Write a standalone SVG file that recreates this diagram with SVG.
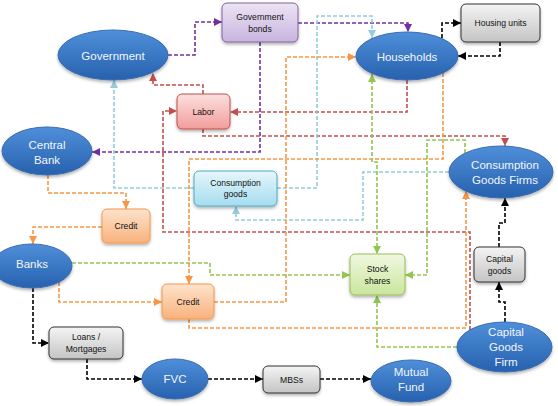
<svg xmlns="http://www.w3.org/2000/svg" width="558" height="406" viewBox="0 0 558 406">
<defs>
<linearGradient id="gE" x1="0" y1="0" x2="0" y2="1"><stop offset="0" stop-color="#4f8fda"/><stop offset="1" stop-color="#2761ae"/></linearGradient>
<linearGradient id="gPu" x1="0" y1="0" x2="0" y2="1"><stop offset="0" stop-color="#ece4f4"/><stop offset="1" stop-color="#c8b4df"/></linearGradient>
<linearGradient id="gGr" x1="0" y1="0" x2="0" y2="1"><stop offset="0" stop-color="#f4f4f4"/><stop offset="1" stop-color="#c4c4c4"/></linearGradient>
<linearGradient id="gRe" x1="0" y1="0" x2="0" y2="1"><stop offset="0" stop-color="#fce0df"/><stop offset="1" stop-color="#f19d9b"/></linearGradient>
<linearGradient id="gBl" x1="0" y1="0" x2="0" y2="1"><stop offset="0" stop-color="#e6f6fb"/><stop offset="1" stop-color="#a5dcef"/></linearGradient>
<linearGradient id="gOr" x1="0" y1="0" x2="0" y2="1"><stop offset="0" stop-color="#fde3cc"/><stop offset="1" stop-color="#f8b27c"/></linearGradient>
<linearGradient id="gGn" x1="0" y1="0" x2="0" y2="1"><stop offset="0" stop-color="#f0f8e0"/><stop offset="1" stop-color="#c9e69c"/></linearGradient>
<filter id="sh" x="-20%" y="-20%" width="140%" height="150%"><feDropShadow dx="0" dy="2" stdDeviation="1.8" flood-color="#000" flood-opacity="0.3"/></filter>
<marker id="mP" viewBox="0 0 10 10" refX="10" refY="5" markerWidth="8" markerHeight="8" markerUnits="userSpaceOnUse" orient="auto-start-reverse"><path d="M0,0 L10,5 L0,10 z" fill="#7030a0"/></marker>
<marker id="mR" viewBox="0 0 10 10" refX="10" refY="5" markerWidth="8" markerHeight="8" markerUnits="userSpaceOnUse" orient="auto-start-reverse"><path d="M0,0 L10,5 L0,10 z" fill="#c0504d"/></marker>
<marker id="mB" viewBox="0 0 10 10" refX="10" refY="5" markerWidth="8" markerHeight="8" markerUnits="userSpaceOnUse" orient="auto-start-reverse"><path d="M0,0 L10,5 L0,10 z" fill="#93cddd"/></marker>
<marker id="mO" viewBox="0 0 10 10" refX="10" refY="5" markerWidth="8" markerHeight="8" markerUnits="userSpaceOnUse" orient="auto-start-reverse"><path d="M0,0 L10,5 L0,10 z" fill="#f79646"/></marker>
<marker id="mG" viewBox="0 0 10 10" refX="10" refY="5" markerWidth="8" markerHeight="8" markerUnits="userSpaceOnUse" orient="auto-start-reverse"><path d="M0,0 L10,5 L0,10 z" fill="#92c552"/></marker>
<marker id="mK" viewBox="0 0 10 10" refX="10" refY="5" markerWidth="8" markerHeight="8" markerUnits="userSpaceOnUse" orient="auto-start-reverse"><path d="M0,0 L10,5 L0,10 z" fill="#000"/></marker>
</defs>
<style>
.c{fill:none;stroke-width:1.6;stroke-dasharray:4,2}
.p{stroke:#7030a0;marker-end:url(#mP)}
.r{stroke:#c0504d;marker-end:url(#mR)}
.b{stroke:#93cddd;marker-end:url(#mB)}
.o{stroke:#f79646;marker-end:url(#mO)}
.g{stroke:#92c552;marker-end:url(#mG)}
.k{stroke:#000;marker-end:url(#mK)}
.e{fill:url(#gE);stroke:#3a6cb0;stroke-width:1;filter:url(#sh)}
.et{font-family:"Liberation Sans",Arial,sans-serif;font-size:11.5px;fill:#f2f6fc;text-anchor:middle}
.bx{stroke-width:1;filter:url(#sh)}
.bt{font-family:"Liberation Sans",Arial,sans-serif;font-size:8.6px;fill:#111;text-anchor:middle}
</style>
<rect width="558" height="406" fill="#fff"/>
<g id="connectors">
<path class="c p" d="M168,55 H195 V22 H222"/>
<path class="c p" d="M298,23 H408 V32"/>
<path class="c p" d="M260,42 V152 H92"/>
<path class="c r" d="M203,94 V85 H153 V73"/>
<path class="c r" d="M407,80 V112 H230"/>
<path class="c r" d="M203,129 V136 H505 V146"/>
<path class="c r" d="M470,330 V232 H163 V111 H177"/>
<path class="c b" d="M194,188 H114 V80"/>
<path class="c b" d="M277,188 H317 V16 H372 V38"/>
<path class="c b" d="M449,172 H363 V220 H236 V206"/>
<path class="c o" d="M48,175 V193 H126 V209"/>
<path class="c o" d="M102,227 H33 V244"/>
<path class="c o" d="M59,282 V302 H162"/>
<path class="c o" d="M443,73 V159 H189 V284"/>
<path class="c o" d="M214,302 H286 V57 H356"/>
<path class="c o" d="M189,319 V328 H466 V191"/>
<path class="c g" d="M72,263 H210 V275 H350"/>
<path class="c g" d="M457,347 H377 V295"/>
<path class="c g" style="marker-start:url(#mG)" d="M372,74 V162 H377 V254"/>
<path class="c g" d="M465,153 V140 H427 V275 H405"/>
<path class="c k" d="M442,38 V23 H461"/>
<path class="c k" d="M500,42 V56 H458"/>
<path class="c k" d="M499,247 V223 H505 V198"/>
<path class="c k" d="M505,322 V302 H499 V282"/>
<path class="c k" d="M33,288 V343 H49"/>
<path class="c k" d="M87,359 V379 H142"/>
<path class="c k" d="M208,379 H263"/>
<path class="c k" d="M320,379 H371"/>
</g>
<g id="government"><ellipse class="e" cx="113" cy="55" rx="55" ry="25"/><text class="et" x="113" y="59.5">Government</text></g>
<g id="households"><ellipse class="e" cx="407" cy="56" rx="51" ry="24"/><text class="et" x="407" y="60.5">Households</text></g>
<g id="central-bank"><ellipse class="e" cx="47" cy="151" rx="45" ry="24"/><text class="et" x="47" y="149">Central</text><text class="et" x="47" y="164">Bank</text></g>
<g id="cons-firms"><ellipse class="e" cx="501" cy="172" rx="52" ry="26"/><text class="et" x="505" y="169">Consumption</text><text class="et" x="505" y="184">Goods Firms</text></g>
<g id="banks"><ellipse class="e" cx="32" cy="266" rx="40" ry="22"/><text class="et" x="32" y="267.5">Banks</text></g>
<g id="capital-firm"><ellipse class="e" cx="504.5" cy="347" rx="47.5" ry="25"/><text class="et" x="506" y="336">Capital</text><text class="et" x="506" y="351">Goods</text><text class="et" x="506" y="366">Firm</text></g>
<g id="fvc"><ellipse class="e" cx="175" cy="379" rx="33" ry="20"/><text class="et" x="175" y="383">FVC</text></g>
<g id="mutual-fund"><ellipse class="e" cx="411" cy="381" rx="40" ry="21"/><text class="et" x="411" y="376">Mutual</text><text class="et" x="411" y="391">Fund</text></g>
<g id="gov-bonds"><rect class="bx" x="222" y="3" width="76" height="39" rx="5" fill="url(#gPu)" stroke="#8064a2"/><text class="bt" x="260" y="20">Government</text><text class="bt" x="260" y="31.5">bonds</text></g>
<g id="housing"><rect class="bx" x="461" y="4" width="79" height="38" rx="5" fill="url(#gGr)" stroke="#333"/><text class="bt" x="500.5" y="26">Housing units</text></g>
<g id="labor"><rect class="bx" x="177" y="94" width="53" height="35" rx="5" fill="url(#gRe)" stroke="#c0504d"/><text class="bt" x="203.5" y="114.5">Labor</text></g>
<g id="cons-goods"><rect class="bx" x="194" y="171" width="83" height="35" rx="5" fill="url(#gBl)" stroke="#4bacc6"/><text class="bt" x="235.5" y="185.5">Consumption</text><text class="bt" x="235.5" y="197">goods</text></g>
<g id="credit-1"><rect class="bx" x="102" y="209" width="48" height="34" rx="5" fill="url(#gOr)" stroke="#f79646"/><text class="bt" x="126" y="229">Credit</text></g>
<g id="credit-2"><rect class="bx" x="162" y="284" width="52" height="35" rx="5" fill="url(#gOr)" stroke="#f79646"/><text class="bt" x="188" y="304.5">Credit</text></g>
<g id="stock"><rect class="bx" x="350" y="254" width="55" height="41" rx="5" fill="url(#gGn)" stroke="#9bbb59"/><text class="bt" x="377.5" y="272">Stock</text><text class="bt" x="377.5" y="283.5">shares</text></g>
<g id="capital-goods"><rect class="bx" x="474" y="247" width="51" height="35" rx="5" fill="url(#gGr)" stroke="#333"/><text class="bt" x="499.5" y="262">Capital</text><text class="bt" x="499.5" y="273.5">goods</text></g>
<g id="loans"><rect class="bx" x="49" y="327" width="74" height="32" rx="5" fill="url(#gGr)" stroke="#333"/><text class="bt" x="86" y="340">Loans /</text><text class="bt" x="86" y="351.5">Mortgages</text></g>
<g id="mbss"><rect class="bx" x="263" y="366" width="57" height="27" rx="5" fill="url(#gGr)" stroke="#333"/><text class="bt" x="291.5" y="382.5">MBSs</text></g>
</svg>
